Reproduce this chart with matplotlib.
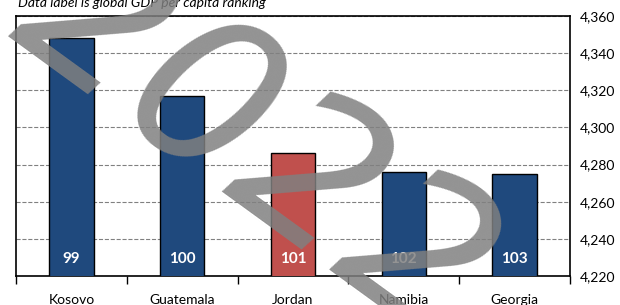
import matplotlib
matplotlib.use("Agg")
import matplotlib.pyplot as plt
import numpy as np

countries = ["Kosovo", "Guatemala", "Jordan", "Namibia", "Georgia"]
gdp = [4348, 4317, 4286, 4276, 4275]
ranks = [99, 100, 101, 102, 103]
highlight = "Jordan"
yticks = [4220, 4240, 4260, 4280, 4300, 4320, 4340, 4360]

plt.rcParams['font.family'] = ['Lato', 'DejaVu Sans']

fig = plt.figure(figsize=(6.2, 3.05), dpi=100)
ax = fig.add_axes([16/620, 1-276/305, (570-16)/620, (276-16)/305])

x = np.arange(len(countries))
cols = ['#C0504D' if c == highlight else '#1F497D' for c in countries]
ax.bar(x, gdp, width=0.4, color=cols, edgecolor='black', linewidth=1, zorder=3)
for xi, r in zip(x, ranks):
    ax.text(xi, 4229, str(r), ha='center', va='center', color='white',
            fontsize=11, fontweight='bold', zorder=4)

ax.set_xlim(-0.5, len(countries) - 0.5)
ax.set_ylim(yticks[0], yticks[-1])
ax.set_yticks(yticks)
ax.set_yticklabels([f"{v:,}" for v in yticks], fontsize=10)
ax.yaxis.tick_right()
ax.tick_params(axis='y', length=0, pad=7)
ax.set_xticks(np.arange(len(countries) + 1) - 0.5, minor=False)
ax.set_xticklabels([])
ax.set_xticks(x, minor=True)
ax.set_xticklabels(countries, minor=True, fontsize=10)
ax.tick_params(axis='x', which='major', length=6, width=1, direction='out')
ax.tick_params(axis='x', which='minor', length=0, pad=13)
ax.grid(axis='y', linestyle='--', color='#808080', linewidth=0.8, zorder=0)
for s in ax.spines.values():
    s.set_linewidth(1.2)
    s.set_color('black')

fig.text(18/620, 1-3/305, "Data label is global GDP per capita ranking", fontsize=10,
         style='italic', ha='left', va='center')

# watermark
fig.text(255/620, 1-145/305, "2022", fontsize=150, rotation=-36, color='#808080', alpha=0.85,
         ha='center', va='center', style='italic', family='DejaVu Sans', zorder=10)

fig.savefig("out.png", dpi=100)
